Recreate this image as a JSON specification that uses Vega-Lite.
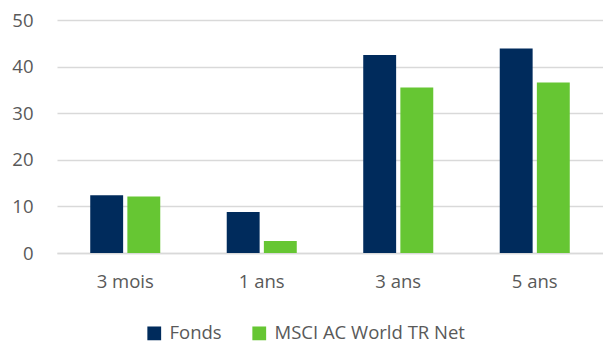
{
  "$schema": "https://vega.github.io/schema/vega-lite/v6.json",
  "width": 546,
  "height": 233,
  "autosize": {"type": "none"},
  "padding": {"left": 57, "top": 20, "right": 0, "bottom": 94},
  "background": "white",
  "data": {"values": [
    {"period": "3 mois", "series": "Fonds", "value": 12.4},
    {"period": "3 mois", "series": "MSCI AC World TR Net", "value": 12.1},
    {"period": "1 ans", "series": "Fonds", "value": 8.8},
    {"period": "1 ans", "series": "MSCI AC World TR Net", "value": 2.6},
    {"period": "3 ans", "series": "Fonds", "value": 42.5},
    {"period": "3 ans", "series": "MSCI AC World TR Net", "value": 35.5},
    {"period": "5 ans", "series": "Fonds", "value": 43.9},
    {"period": "5 ans", "series": "MSCI AC World TR Net", "value": 36.6}
  ]},
  "mark": {"type": "bar"},
  "encoding": {
    "x": {
      "field": "period", "type": "nominal", "sort": null, "title": null,
      "scale": {"paddingInner": 0.487, "paddingOuter": 0.2435},
      "axis": {"labelAngle": 0, "ticks": false, "domain": true, "domainColor": "#D9D9D9", "domainWidth": 1.5,
               "labelFont": "Open Sans", "labelFontSize": 18.5, "labelColor": "#595959", "labelPadding": 19}
    },
    "xOffset": {"field": "series", "type": "nominal", "scale": {"paddingInner": 0.114}},
    "y": {
      "field": "value", "type": "quantitative", "title": null,
      "scale": {"domain": [0, 50]},
      "axis": {"values": [0, 10, 20, 30, 40, 50], "ticks": false, "domain": false, "grid": true,
               "gridColor": "#D9D9D9", "gridWidth": 1.5,
               "labelFont": "Open Sans", "labelFontSize": 18.5, "labelColor": "#595959", "labelPadding": 24}
    },
    "color": {
      "field": "series", "type": "nominal", "title": null,
      "scale": {"domain": ["Fonds", "MSCI AC World TR Net"], "range": ["#002B5C", "#66C633"]},
      "legend": {"orient": "none", "legendX": 88, "legendY": 304, "direction": "horizontal",
                 "symbolType": "square", "symbolSize": 190, "symbolStrokeWidth": 0,
                 "labelFont": "Open Sans", "labelFontSize": 18.5, "labelColor": "#595959", "labelLimit": 0,
                 "columnPadding": 28, "labelOffset": 6}
    }
  },
  "config": {"view": {"stroke": null}}
}
